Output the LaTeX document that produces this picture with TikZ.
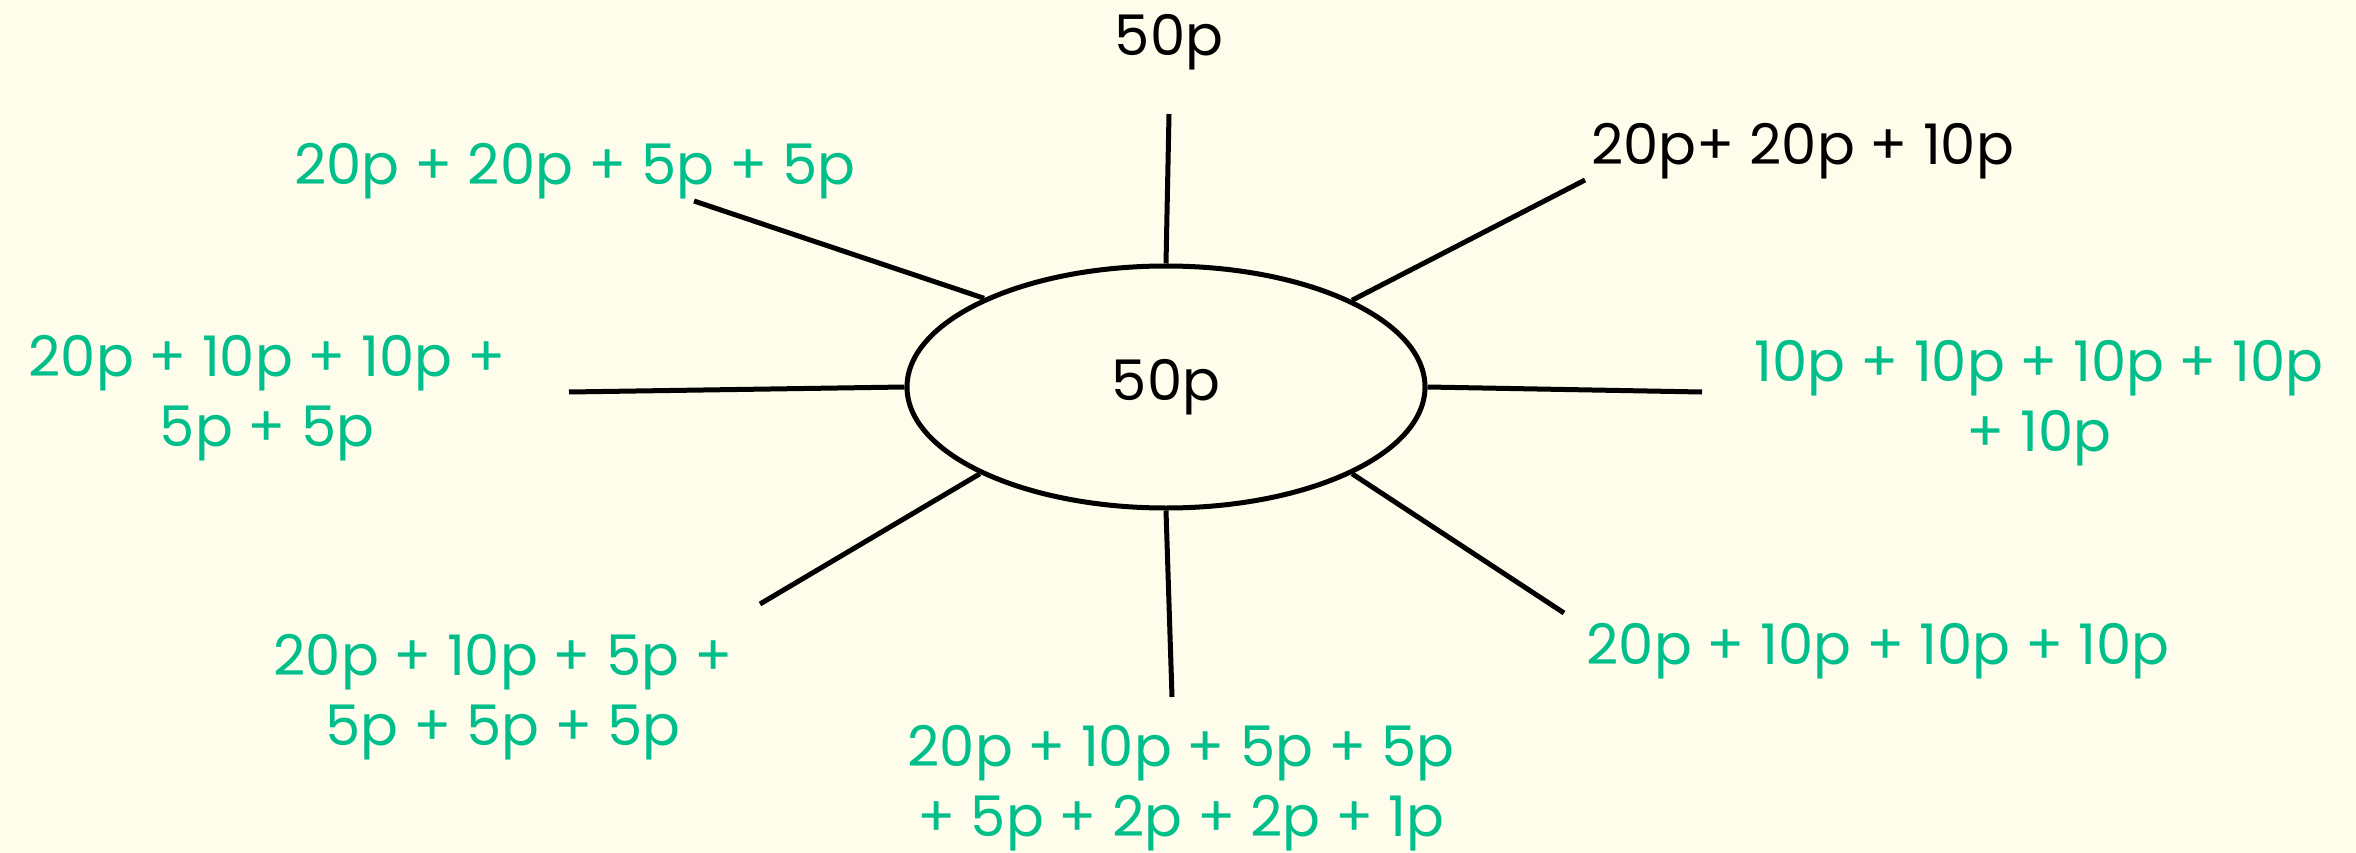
\documentclass[tikz,border=0pt]{standalone}
\usepackage{fontspec}
\setmainfont{Poppins}
\usetikzlibrary{shapes.geometric}
\definecolor{bg}{HTML}{FEFCEB}
\definecolor{coin}{HTML}{00BF8A}
\begin{document}
\begin{tikzpicture}[x=1pt,y=1pt,
  lab/.style={inner sep=0pt, font=\fontsize{56}{70}\selectfont},
  green/.style={lab, text=coin},
  spoke/.style={draw=black, line width=5pt}]
\fill[bg] (0,0) rectangle (2356,-853);
\useasboundingbox (0,0) rectangle (2356,-853);
\node[ellipse, draw, line width=5pt, minimum width=518pt, minimum height=242pt, inner sep=0pt, lab] (c) at (1166,-387) {50p};
% free ends
\coordinate (e1) at (1169,-114);
\coordinate (e2) at (1585,-180);
\coordinate (e3) at (1702,-392);
\coordinate (e4) at (1564,-613);
\coordinate (e5) at (1172,-697);
\coordinate (e6) at (760,-604);
\coordinate (e7) at (569,-392);
\coordinate (e8) at (694,-201);
\draw[spoke] (c.north) -- (e1);
\draw[spoke] (c.25.7) -- (e2);
\draw[spoke] (c.east) -- (e3);
\draw[spoke] (c.-25.7) -- (e4);
\draw[spoke] (c.south) -- (e5);
\draw[spoke] (c.205.4) -- (e6);
\draw[spoke] (c.west) -- (e7);
\draw[spoke] (c.154.6) -- (e8);
% labels
\node[lab, anchor=base] (t1) at (1169,-56) {50p};
\node[lab, anchor=base west] (t2) at (1591,-165) {20p+ 20p + 10p};
\node[green, anchor=base] (t8) at (575,-185) {20p + 20p + 5p + 5p};
\node[green, anchor=center, align=center] (t7) at (267,-398) {20p + 10p + 10p +\\5p + 5p};
\node[green, anchor=center, align=center] (t3) at (2039,-403) {10p + 10p + 10p + 10p\\+ 10p};
\node[green, anchor=base] (t4) at (1878,-664) {20p + 10p + 10p + 10p};
\node[green, anchor=center, align=center] (t6) at (503,-697) {20p + 10p + 5p +\\5p + 5p + 5p};
\node[green, anchor=center, align=center] (t5) at (1181,-788) {20p + 10p + 5p + 5p\\+ 5p + 2p + 2p + 1p};
\end{tikzpicture}
\end{document}
